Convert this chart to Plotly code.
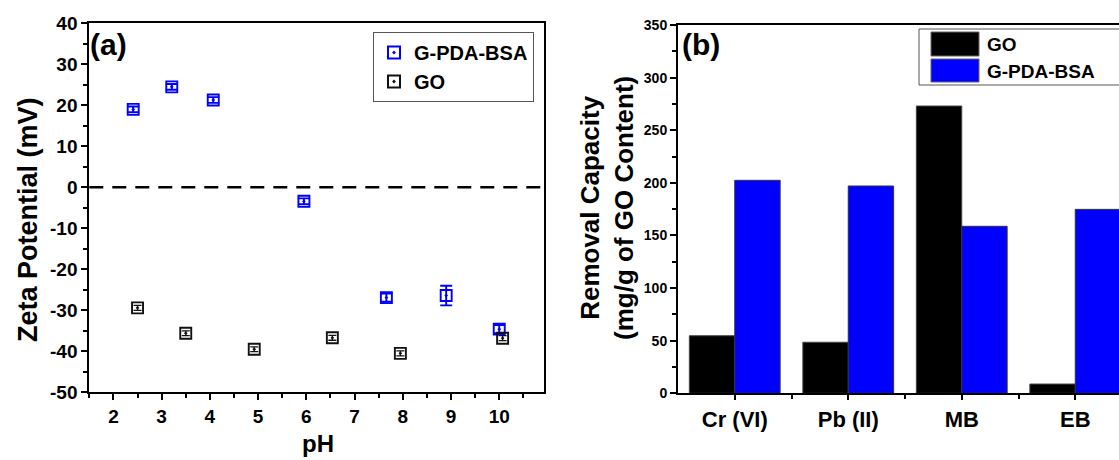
import plotly.graph_objects as go

# ---------------- data: panel (a) zeta potential ----------------
ph_bsa = [2.41, 3.21, 4.07, 5.95, 7.66, 8.90, 10.00]
zeta_bsa = [19.0, 24.5, 21.3, -3.4, -26.9, -26.4, -34.6]
err_bsa = [0.7, 0.7, 0.7, 0.7, 1.0, 2.4, 1.0]

ph_go = [2.50, 3.50, 4.92, 6.54, 7.95, 10.07]
zeta_go = [-29.4, -35.6, -39.5, -36.7, -40.5, -36.8]
err_go = [0.6, 0.6, 0.6, 0.6, 0.6, 0.6]

zeta_ticks = [-50, -40, -30, -20, -10, 0, 10, 20, 30, 40]

# ---------------- data: panel (b) removal capacity ----------------
categories = ["Cr (VI)", "Pb (II)", "MB", "EB"]
cap_go = [54.7, 48.5, 273.0, 8.8]
cap_bsa = [202.4, 197.0, 158.7, 174.8]

W, H = 1119, 460
FONT = "Liberation Sans, Arial, sans-serif"
BLUE = "#0000ff"

cat_pos = list(range(len(categories)))

fig = go.Figure()

fig.add_trace(go.Scatter(
    x=ph_bsa, y=zeta_bsa, mode="markers", name="G-PDA-BSA",
    marker=dict(symbol="square-open-dot", size=11, color=BLUE, line=dict(width=1.9, color=BLUE)),
    error_y=dict(type="data", array=err_bsa, color=BLUE, thickness=1.9, width=6),
    xaxis="x", yaxis="y", legend="legend",
))
fig.add_trace(go.Scatter(
    x=ph_go, y=zeta_go, mode="markers", name="GO",
    marker=dict(symbol="square-open-dot", size=11, color="#111111", line=dict(width=1.9, color="#111111")),
    error_y=dict(type="data", array=err_go, color="#111111", thickness=1.3, width=4),
    xaxis="x", yaxis="y", legend="legend",
))

fig.add_trace(go.Bar(
    x=cat_pos, y=cap_go, name="GO", marker=dict(color="black", line=dict(color="#444444", width=1)),
    xaxis="x2", yaxis="y2", showlegend=False,
))
fig.add_trace(go.Bar(
    x=cat_pos, y=cap_bsa, name="G-PDA-BSA", marker=dict(color=BLUE, line=dict(color="#333333", width=1)),
    xaxis="x2", yaxis="y2", showlegend=False,
))

# domains (paper fractions)
xa_dom = [89.3 / W, 543.6 / W]
ya_dom = [1 - 392.3 / H, 1 - 23.3 / H]
xb_dom = [678.0 / W, 1.0]
yb_dom = [1 - 393.3 / H, 1 - 25.0 / H]

xa_range = [1.5, 10.92]
ya_range = [-50, 40]
xb_range = [-0.5, -0.5 + (W - 678.0) / 113.5]
yb_range = [0, 350]

tickfont_a = dict(family=FONT, size=19, color="black", weight="bold")
tickfont_b = dict(family=FONT, size=14, color="black", weight="bold")
tickfont_bx = dict(family=FONT, size=22, color="black", weight="bold")

common_line = dict(showline=True, linecolor="black", linewidth=2, showgrid=False, zeroline=False,
                   mirror=True, ticks="outside", tickcolor="black", tickwidth=1.8, automargin=False)
overlay_common = dict(showticklabels=False, showline=False, showgrid=False, zeroline=False,
                      automargin=False, ticks="inside", ticklen=6, tickwidth=1.8, tickcolor="black")

fig.update_layout(
    width=W, height=H, margin=dict(l=0, r=0, t=0, b=0, pad=0, autoexpand=False),
    paper_bgcolor="white", plot_bgcolor="white",
    barmode="group", bargap=0.2, bargroupgap=0,
    font=dict(family=FONT, color="black"),
    xaxis=dict(domain=xa_dom, range=xa_range, anchor="y", dtick=1, tick0=0, ticklen=6,
               tickfont=tickfont_a,
               minor=dict(dtick=0.5, tick0=0, ticks="outside", ticklen=4, tickcolor="black", tickwidth=1.5),
               **common_line),
    yaxis=dict(domain=ya_dom, range=ya_range, anchor="x", tickmode="array", tickvals=zeta_ticks,
               ticktext=[str(v) for v in zeta_ticks], ticklen=6,
               tickfont=tickfont_a,
               minor=dict(dtick=5, tick0=0, ticks="outside", ticklen=4, tickcolor="black", tickwidth=1.5),
               **common_line),
    xaxis3=dict(overlaying="x", side="top", anchor="y", range=xa_range, dtick=1, tick0=0,
                minor=dict(dtick=0.5, tick0=0, ticks="inside", ticklen=4, tickcolor="black", tickwidth=1.5),
                **overlay_common),
    yaxis3=dict(overlaying="y", side="right", anchor="x", range=ya_range, dtick=10, tick0=0,
                minor=dict(dtick=5, tick0=0, ticks="inside", ticklen=4, tickcolor="black", tickwidth=1.5),
                **overlay_common),
    xaxis2=dict(domain=xb_dom, range=xb_range, anchor="y2", tickmode="array", tickvals=cat_pos,
                ticktext=categories, ticklen=5, tickfont=tickfont_bx,
                minor=dict(tickmode="array", tickvals=[p + 0.5 for p in cat_pos], ticks="outside",
                           ticklen=4, tickcolor="black", tickwidth=1.5),
                **common_line),
    yaxis2=dict(domain=yb_dom, range=yb_range, anchor="x2", dtick=50, tick0=0, ticklen=6,
                tickfont=tickfont_b,
                minor=dict(dtick=25, tick0=0, ticks="outside", ticklen=4, tickcolor="black", tickwidth=1.5),
                **common_line),
    xaxis4=dict(overlaying="x2", side="top", anchor="y2", range=xb_range, tickmode="array",
                tickvals=cat_pos,
                minor=dict(tickmode="array", tickvals=[p + 0.5 for p in cat_pos], ticks="inside",
                           ticklen=4, tickcolor="black", tickwidth=1.5),
                **overlay_common),
    legend=dict(x=534 / W, xanchor="right", y=1 - 32 / H, yanchor="top",
                bordercolor="#555555", borderwidth=1, bgcolor="white",
                font=dict(family=FONT, size=20, color="black", weight="bold"),
                itemsizing="constant"),
)

# zero reference line (dashed)
fig.add_shape(type="line", xref="x domain", yref="y", x0=0, x1=1, y0=0, y1=0,
              line=dict(color="black", width=2.5, dash="14px,9px"))

# panel labels and axis titles
ann = [
    dict(text="(a)", x=88 / W, y=1 - 45 / H, xanchor="left", yanchor="middle",
         font=dict(size=30, weight="bold")),
    dict(text="(b)", x=680 / W, y=1 - 45 / H, xanchor="left", yanchor="middle",
         font=dict(size=30, weight="bold")),
    dict(text="Zeta Potential (mV)", x=28 / W, y=1 - 220 / H, textangle=-90,
         xanchor="center", yanchor="middle", font=dict(size=27, weight="bold")),
    dict(text="pH", x=318 / W, y=1 - 443 / H, xanchor="center", yanchor="middle",
         font=dict(size=24, weight="bold")),
    dict(text="Removal Capacity<br>(mg/g of GO Content)", x=607 / W, y=1 - 208 / H, textangle=-90,
         xanchor="center", yanchor="middle", font=dict(size=26, weight="bold")),
]
for a in ann:
    fig.add_annotation(xref="paper", yref="paper", showarrow=False,
                       font_family=FONT, font_color="black", **a)

# custom legend for panel (b)
fig.add_shape(type="rect", xref="paper", yref="paper", x0=919 / W, x1=1.01, y0=1 - 85 / H, y1=1 - 29 / H,
              line=dict(color="#555555", width=1), fillcolor="white", layer="above")
fig.add_shape(type="rect", xref="paper", yref="paper", x0=931 / W, x1=979 / W, y0=1 - 56 / H, y1=1 - 32 / H,
              line=dict(color="#666666", width=1), fillcolor="black", layer="above")
fig.add_shape(type="rect", xref="paper", yref="paper", x0=931 / W, x1=979 / W, y0=1 - 82 / H, y1=1 - 59 / H,
              line=dict(color="#666666", width=1), fillcolor=BLUE, layer="above")
for txt, yc in [("GO", 44), ("G-PDA-BSA", 71)]:
    fig.add_annotation(xref="paper", yref="paper", x=985 / W, y=1 - yc / H, text=txt, showarrow=False,
                       xanchor="left", yanchor="middle",
                       font=dict(family=FONT, size=19, color="black", weight="bold"))

fig.write_html("out.html", config={"displayModeBar": False},
               post_script="document.body.style.margin='0';")
